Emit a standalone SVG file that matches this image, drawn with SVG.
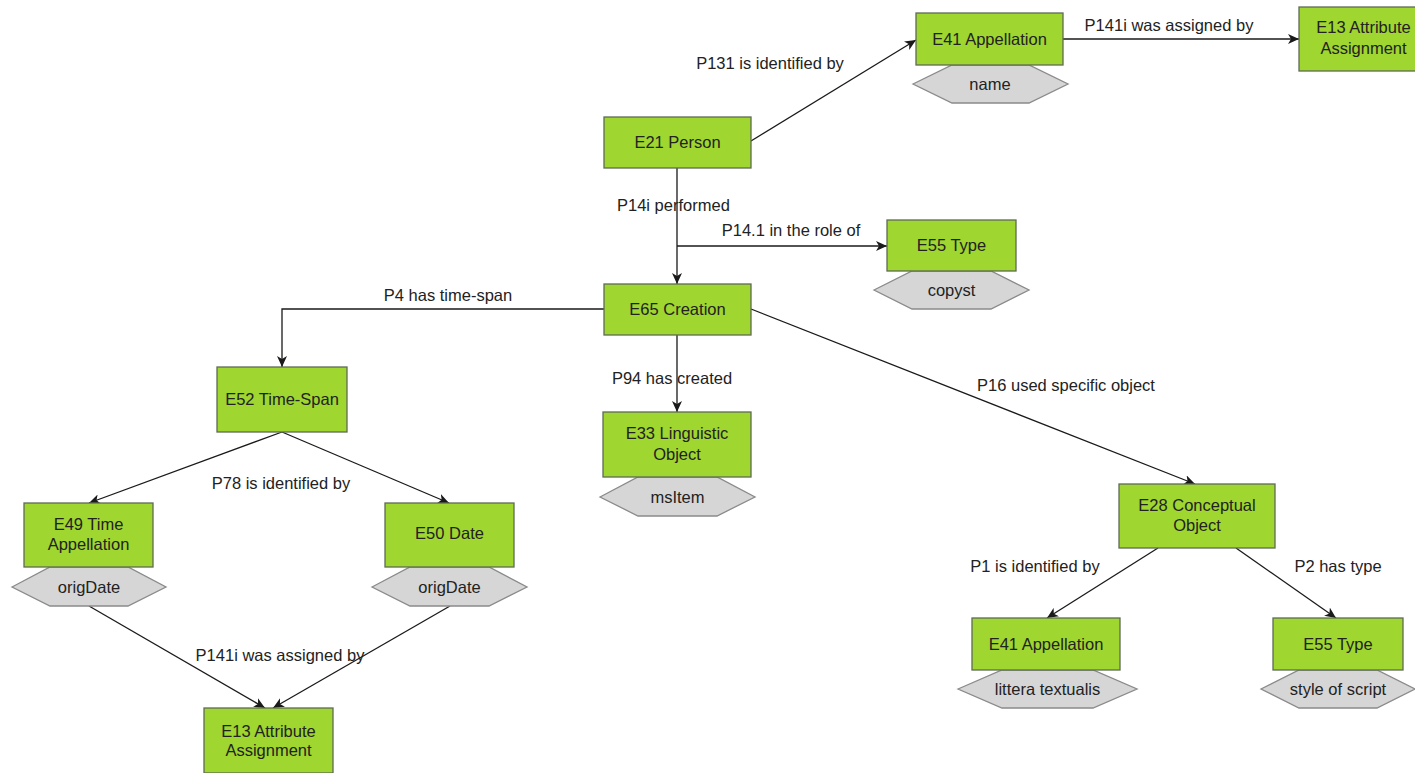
<svg xmlns="http://www.w3.org/2000/svg" width="1415" height="773" viewBox="0 0 1415 773">
<style>
.box{fill:#9fd62f;stroke:#5f6b55;stroke-width:1.3}
.hex{fill:#d6d6d6;stroke:#8a8a8a;stroke-width:1.3}
text{font-family:"Liberation Sans",Arial,sans-serif;font-size:16.5px;fill:#222}
.c{text-anchor:middle}
.edge{fill:none;stroke:#1a1a1a;stroke-width:1.3}
</style>
<defs>
<marker id="arr" markerUnits="userSpaceOnUse" markerWidth="12" markerHeight="10" refX="11" refY="5" orient="auto">
<path d="M0,0 L11,5 L0,10 L3,5 z" fill="#1a1a1a"/>
</marker>
</defs>
<rect width="1415" height="773" fill="#fff"/>
<g id="connectors">
<path class="edge" d="M751,141 L916,40" marker-end="url(#arr)"/>
<path class="edge" d="M1063,39 L1299,39" marker-end="url(#arr)"/>
<path class="edge" d="M677,168 L677,284" marker-end="url(#arr)"/>
<path class="edge" d="M677,246 L887,246" marker-end="url(#arr)"/>
<path class="edge" d="M604,309 L282,309 L282,367" marker-end="url(#arr)"/>
<path class="edge" d="M677,335 L677,412" marker-end="url(#arr)"/>
<path class="edge" d="M751,309 L1195,484" marker-end="url(#arr)"/>
<path class="edge" d="M282,432 L89,503" marker-end="url(#arr)"/>
<path class="edge" d="M282,432 L449,503" marker-end="url(#arr)"/>
<path class="edge" d="M89,606 L265,708" marker-end="url(#arr)"/>
<path class="edge" d="M450,606 L273,708" marker-end="url(#arr)"/>
<path class="edge" d="M1158,548 L1047,618" marker-end="url(#arr)"/>
<path class="edge" d="M1236,548 L1336,618" marker-end="url(#arr)"/>
<text class="c" x="770" y="69">P131 is identified by</text>
<text class="c" x="1169" y="31">P141i was assigned by</text>
<text x="617" y="211">P14i performed</text>
<text class="c" x="791" y="236">P14.1 in the role of</text>
<text class="c" x="448" y="301">P4 has time-span</text>
<text class="c" x="672" y="384">P94 has created</text>
<text class="c" x="1066" y="391">P16 used specific object</text>
<text class="c" x="281" y="489">P78 is identified by</text>
<text class="c" x="280" y="661">P141i was assigned by</text>
<text class="c" x="1035" y="572">P1 is identified by</text>
<text class="c" x="1338" y="572">P2 has type</text>
</g>
<g id="e21">
<rect class="box" x="604" y="117" width="147" height="51"/>
<text class="c" x="677.5" y="148">E21 Person</text>
</g>
<g id="e41a">
<polygon class="hex" points="913,84 952,65 1029,65 1068,84 1029,103 952,103"/>
<rect class="box" x="916" y="13" width="147" height="52"/>
<text class="c" x="989.5" y="45">E41 Appellation</text>
<text class="c" x="990" y="90">name</text>
</g>
<g id="e13a">
<rect class="box" x="1299" y="7" width="129" height="64"/>
<text class="c" x="1363.5" y="33">E13 Attribute</text>
<text class="c" x="1363.5" y="54">Assignment</text>
</g>
<g id="e55a">
<polygon class="hex" points="874,290 912,271 991,271 1029,290 991,309 912,309"/>
<rect class="box" x="887" y="220" width="129" height="51"/>
<text class="c" x="951.5" y="251">E55 Type</text>
<text class="c" x="951.5" y="296">copyst</text>
</g>
<g id="e65">
<rect class="box" x="604" y="284" width="147" height="51"/>
<text class="c" x="677.5" y="315">E65 Creation</text>
</g>
<g id="e33">
<polygon class="hex" points="600,497 638,477 717,477 755,497 717,516 638,516"/>
<rect class="box" x="603" y="412" width="148" height="65"/>
<text class="c" x="677" y="439">E33 Linguistic</text>
<text class="c" x="677" y="460">Object</text>
<text class="c" x="677.5" y="503">msItem</text>
</g>
<g id="e52">
<rect class="box" x="217" y="367" width="130" height="65"/>
<text class="c" x="282" y="405">E52 Time-Span</text>
</g>
<g id="e49">
<polygon class="hex" points="12,587 50,567 128,567 166,587 128,606 50,606"/>
<rect class="box" x="24" y="503" width="129" height="64"/>
<text class="c" x="88.5" y="530">E49 Time</text>
<text class="c" x="88.5" y="550">Appellation</text>
<text class="c" x="89" y="593">origDate</text>
</g>
<g id="e50">
<polygon class="hex" points="372,587 410,567 489,567 527,587 489,606 410,606"/>
<rect class="box" x="385" y="503" width="129" height="64"/>
<text class="c" x="449.5" y="539">E50 Date</text>
<text class="c" x="449.5" y="593">origDate</text>
</g>
<g id="e13b">
<rect class="box" x="204" y="708" width="129" height="65"/>
<text class="c" x="268.5" y="737">E13 Attribute</text>
<text class="c" x="268.5" y="756">Assignment</text>
</g>
<g id="e28">
<rect class="box" x="1119" y="484" width="156" height="64"/>
<text class="c" x="1197" y="511">E28 Conceptual</text>
<text class="c" x="1197" y="531">Object</text>
</g>
<g id="e41b">
<polygon class="hex" points="958,689 1002,670 1093,670 1137,689 1093,708 1002,708"/>
<rect class="box" x="972" y="618" width="148" height="52"/>
<text class="c" x="1046" y="650">E41 Appellation</text>
<text class="c" x="1047.5" y="695">littera textualis</text>
</g>
<g id="e55b">
<polygon class="hex" points="1261,689 1299,670 1377,670 1415,689 1377,708 1299,708"/>
<rect class="box" x="1273" y="618" width="130" height="52"/>
<text class="c" x="1338" y="650">E55 Type</text>
<text class="c" x="1338" y="695">style of script</text>
</g>
</svg>
